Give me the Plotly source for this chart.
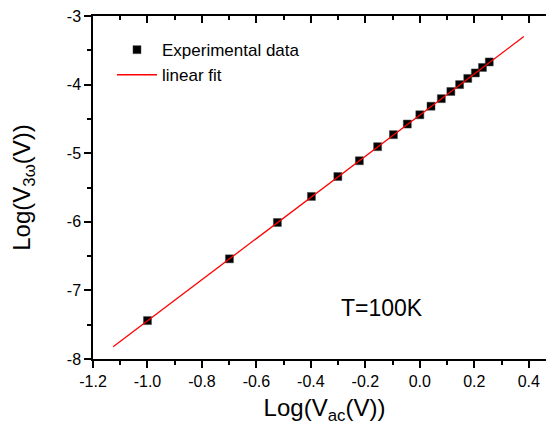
import plotly.graph_objects as go

# measured points, log10 of the ac voltage and of the 3-omega voltage
log_vac = [-1.0, -0.699, -0.523, -0.398, -0.301, -0.222, -0.155, -0.097, -0.046,
           0.0, 0.041, 0.079, 0.114, 0.146, 0.176, 0.204, 0.230, 0.255]
log_v3w = [-7.44, -6.54, -6.01, -5.63, -5.34, -5.11, -4.905, -4.73, -4.575,
           -4.44, -4.315, -4.205, -4.10, -4.00, -3.91, -3.83, -3.75, -3.67]

# end points of the linear fit
fit_x = [-1.126, 0.382]
fit_y = [-7.82, -3.30]

x_ticks = [-1.2, -1.0, -0.8, -0.6, -0.4, -0.2, 0.0, 0.2, 0.4]
x_labels = ['-1.2', '-1.0', '-0.8', '-0.6', '-0.4', '-0.2', '0.0', '0.2', '0.4']
y_ticks = [-8, -7, -6, -5, -4, -3]
y_labels = ['-8', '-7', '-6', '-5', '-4', '-3']

FONT = 'Liberation Sans, Arial, sans-serif'
AX = 'black'
x_range = [-1.2, 0.5]
y_range = [-8, -3]

fig = go.Figure()
fig.add_trace(go.Scatter(
    x=log_vac, y=log_v3w, mode='markers', name='Experimental data',
    marker=dict(symbol='square', size=8, color='black',
                line=dict(color='#444', width=0.5))))
fig.add_trace(go.Scatter(
    x=fit_x, y=fit_y, mode='lines', name='linear fit',
    line=dict(color='#ff0000', width=1.3)))
# empty trace so the top/right tick axes get drawn
fig.add_trace(go.Scatter(x=[None], y=[None], xaxis='x2', yaxis='y2',
                         showlegend=False, hoverinfo='skip'))

fig.add_annotation(x=-0.138, y=-7.257, xref='x', yref='y', text='T=100K',
                   showarrow=False, font=dict(family=FONT, size=23, color='black'))

tick_style = dict(showgrid=False, zeroline=False, tickcolor=AX, tickwidth=1.5,
                  ticklen=7)

fig.update_layout(
    width=550, height=417,
    margin=dict(l=85, r=0, t=8, b=66),
    paper_bgcolor='white', plot_bgcolor='white',
    font=dict(family=FONT, size=16, color='black'),
    showlegend=True,
    legend=dict(x=0.041, y=0.953, xanchor='left', yanchor='top',
                bgcolor='rgba(0,0,0,0)', font=dict(size=17), itemwidth=40,
                tracegroupgap=0),
    xaxis=dict(range=x_range, tickvals=x_ticks, ticktext=x_labels,
               showline=True, mirror=True, linecolor=AX, linewidth=1.5,
               ticks='outside', ticklabeloverflow='allow',
               minor=dict(ticks='outside', ticklen=4, dtick=0.1, tick0=0,
                          tickcolor=AX, tickwidth=1.5),
               title=dict(text='Log(V<sub>ac</sub>(V))', font=dict(size=24)),
               **tick_style),
    yaxis=dict(range=y_range, tickvals=y_ticks, ticktext=y_labels,
               showline=True, mirror=True, linecolor=AX, linewidth=1.5,
               ticks='outside', ticklabeloverflow='allow',
               minor=dict(ticks='outside', ticklen=4, dtick=0.5, tick0=0,
                          tickcolor=AX, tickwidth=1.5),
               title=dict(text='Log(V<sub>3ω</sub>(V))', font=dict(size=24),
                          standoff=34),
               **tick_style),
    xaxis2=dict(range=x_range, overlaying='x', side='top', anchor='y2',
                tickvals=x_ticks, showticklabels=False, showline=False,
                ticks='inside',
                minor=dict(ticks='inside', ticklen=4, dtick=0.1, tick0=0,
                           tickcolor=AX, tickwidth=1.5),
                **tick_style),
    yaxis2=dict(range=y_range, overlaying='y', side='right', anchor='x2',
                tickvals=y_ticks, showticklabels=False, showline=False,
                ticks='inside',
                minor=dict(ticks='inside', ticklen=4, dtick=0.5, tick0=0,
                           tickcolor=AX, tickwidth=1.5),
                **tick_style),
)

fig.write_html('out.html')
